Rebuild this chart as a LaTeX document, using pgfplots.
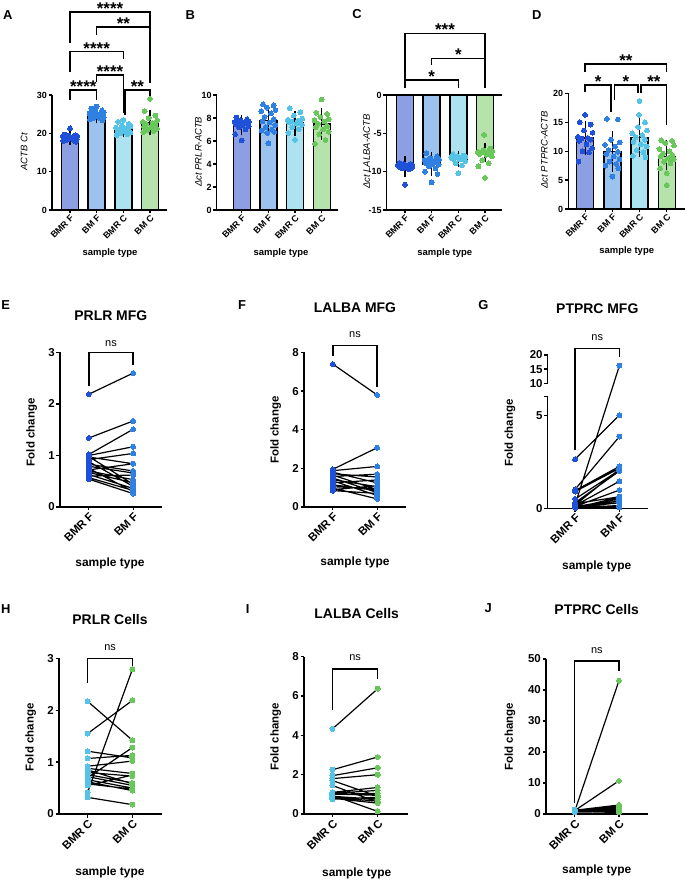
\documentclass[border=0pt]{standalone}
\usepackage{fontspec}
\setmainfont{Liberation Sans}
\usepackage{pgfplots}
\usepackage{pgfplotstable}
\pgfplotsset{compat=1.18}

% group colours
\definecolor{barBMRF}{HTML}{8C9FE3}
\definecolor{barBMF}{HTML}{9CC3EE}
\definecolor{barBMRC}{HTML}{ADE2F1}
\definecolor{barBMC}{HTML}{B6E2AC}
\definecolor{dotBMRF}{HTML}{1E50D8}
\definecolor{dotBMF}{HTML}{2F80E3}
\definecolor{dotBMRC}{HTML}{55C3E6}
\definecolor{dotBMC}{HTML}{69C75C}

\newcommand\fs[1]{\fontsize{#1}{#1}\selectfont}

\tikzset{
  brk/.style={line width=1.45bp, black},
  stars/.style={font=\bfseries\fs{17}, anchor=base, yshift=-2.5bp, inner sep=0pt},
  nslab/.style={font=\fs{11}, inner sep=0pt},
}

\pgfplotsset{
  gp/.style={
    scale only axis, anchor=south west, axis lines=left, clip=false,
    axis line style={-, line width=1.4bp, black},
    tick style={line width=1.3bp, black},
    tick align=outside, major tick length=3.5bp,
    /pgf/number format/assume math mode=true,
  },
  toprow/.style={gp,
    xtick={0,1,2,3}, xticklabels={BMR F,BM F,BMR C,BM C},
    xticklabel style={font=\bfseries\fs{9}, rotate=45, anchor=north east, inner sep=0.5bp},
    yticklabel style={font=\bfseries\fs{9}, inner sep=1.5bp},
  },
  pairs/.style={gp, xtick={0,1},
    xticklabel style={font=\bfseries\fs{11.5}, rotate=45, anchor=north east, inner sep=0.5bp},
    yticklabel style={font=\bfseries\fs{11.5}, inner sep=1.5bp},
  },
  gpbar/.style={ybar, bar width=17bp, bar shift=0pt, draw=black, line width=1.4bp, fill=#1},
  gpdots/.style={only marks, mark=*, mark size=2.4bp, mark options={draw=#1, fill=#1, line width=0pt}},
  gperr/.style={draw=none, mark=none, error bars/.cd, y dir=both, y explicit,
    error bar style={draw=black, line width=1.1bp},
    error mark options={draw=black, line width=1.1bp, mark size=4.5bp}},
  pairline/.style={black, line width=1.2bp, mark=none, unbounded coords=jump},
  pairdots/.style 2 args={only marks, mark=*, mark size=2.5bp,
    mark options={draw=#1, fill=#1, line width=0pt}, restrict x to domain=#2},
  gbreak/.style={y filter/.expression={min(y,6)+0.17925*max(0,min(y,10)-6)+0.1518*max(0,y-10)}},
}

\begin{document}

% paired fold changes: x = 0 (reference sample), x = 1 (milk sample)
\pgfplotstableread{
x y
0 2.19
1 2.60
nan 0
0 1.34
1 1.67
nan 0
0 1.02
1 1.51
nan 0
0 1.00
1 1.17
nan 0
0 0.97
1 0.84
nan 0
0 0.92
1 1.04
nan 0
0 0.88
1 0.40
nan 0
0 0.83
1 0.70
nan 0
0 0.79
1 0.66
nan 0
0 0.75
1 0.30
nan 0
0 0.72
1 0.84
nan 0
0 0.70
1 0.53
nan 0
0 0.67
1 0.47
nan 0
0 0.63
1 0.36
nan 0
0 0.60
1 0.62
nan 0
0 0.57
1 0.32
nan 0
0 0.54
1 0.26
nan 0
0 0.98
1 0.44
}\prlrMFG

\pgfplotstableread{
x y
0 7.40
1 5.80
nan 0
0 1.95
1 3.07
nan 0
0 1.88
1 2.10
nan 0
0 1.80
1 1.25
nan 0
0 1.72
1 1.55
nan 0
0 1.65
1 0.90
nan 0
0 1.58
1 1.70
nan 0
0 1.50
1 0.75
nan 0
0 1.42
1 1.05
nan 0
0 1.35
1 0.60
nan 0
0 1.25
1 1.40
nan 0
0 1.15
1 0.85
nan 0
0 1.05
1 0.95
nan 0
0 0.98
1 0.42
nan 0
0 0.90
1 1.10
nan 0
0 0.85
1 0.70
}\lalbaMFG

\pgfplotstableread{
x y
0 2.64
1 5.00
nan 0
0 0.20
1 16.2
nan 0
0 1.02
1 3.85
nan 0
0 0.95
1 2.25
nan 0
0 0.90
1 2.15
nan 0
0 0.50
1 2.05
nan 0
0 0.30
1 2.00
nan 0
0 0.15
1 1.45
nan 0
0 0.10
1 0.98
nan 0
0 0.25
1 0.62
nan 0
0 0.08
1 0.50
nan 0
0 0.05
1 0.40
nan 0
0 0.12
1 0.28
nan 0
0 0.03
1 0.15
nan 0
0 0.06
1 0.05
nan 0
0 0.02
1 0.60
nan 0
0 0.18
1 2.10
nan 0
0 0.04
1 0.30
}\ptprcMFG

\pgfplotstableread{
x y
0 2.17
1 1.42
nan 0
0 1.55
1 2.19
nan 0
0 0.42
1 2.79
nan 0
0 1.21
1 1.08
nan 0
0 1.07
1 1.13
nan 0
0 0.92
1 1.02
nan 0
0 0.88
1 0.78
nan 0
0 0.80
1 0.73
nan 0
0 0.76
1 0.60
nan 0
0 0.72
1 0.55
nan 0
0 0.70
1 1.28
nan 0
0 0.66
1 0.50
nan 0
0 0.62
1 0.45
nan 0
0 0.58
1 0.48
nan 0
0 0.55
1 0.75
nan 0
0 0.32
1 0.18
nan 0
0 0.85
1 0.58
}\prlrCells

\pgfplotstableread{
x y
0 4.33
1 6.37
nan 0
0 2.25
1 2.90
nan 0
0 1.95
1 2.35
nan 0
0 1.80
1 2.00
nan 0
0 1.70
1 0.90
nan 0
0 1.45
1 0.60
nan 0
0 1.10
1 1.35
nan 0
0 1.05
1 1.20
nan 0
0 1.00
1 1.05
nan 0
0 0.95
1 0.13
nan 0
0 0.90
1 0.75
nan 0
0 0.85
1 0.65
nan 0
0 0.80
1 0.55
nan 0
0 0.75
1 0.85
nan 0
0 1.02
1 0.95
}\lalbaCells

\pgfplotstableread{
x y
0 0.9
1 43.0
nan 0
0 1.1
1 10.7
nan 0
0 1.2
1 2.9
nan 0
0 1.0
1 2.5
nan 0
0 0.8
1 2.2
nan 0
0 1.3
1 1.9
nan 0
0 0.7
1 1.6
nan 0
0 1.1
1 1.4
nan 0
0 0.9
1 1.2
nan 0
0 1.0
1 1.0
nan 0
0 0.6
1 0.8
nan 0
0 1.4
1 0.6
nan 0
0 0.8
1 0.5
nan 0
0 1.2
1 2.0
nan 0
0 1.0
1 1.7
}\ptprcCells

\begin{tikzpicture}
\fill[white] (0,0) rectangle (685bp,881bp);

% ---------------- A: ACTB Ct ----------------
\begin{axis}[toprow, at={(52bp,671bp)}, width=115bp, height=115bp,
  xmin=-0.675, xmax=3.637, ymin=0, ymax=30, ytick={0,10,20,30}]
\addplot[gpbar=barBMRF] coordinates {(0,18.95)};
\addplot[gpbar=barBMF] coordinates {(1,24.9)};
\addplot[gpbar=barBMRC] coordinates {(2,21.2)};
\addplot[gpbar=barBMC] coordinates {(3,22.9)};
\addplot[gpdots=dotBMRF] coordinates {(0,21.3) (-0.2,19.7) (0.2,19.5) (-0.05,19.4) (0.27,19.3) (-0.27,19.2) (0.1,19.0) (-0.14,18.9) (0.2,18.8) (-0.22,18.7) (0.05,18.6) (0.26,18.5) (-0.1,18.3) (0.14,18.2) (-0.25,18.0) (0.22,17.8)};
\addplot[gpdots=dotBMF] coordinates {(1,27.0) (0.8,26.5) (1.2,26.0) (0.95,25.8) (1.27,25.5) (0.73,25.2) (1.1,25.0) (0.86,24.8) (1.2,24.6) (0.78,24.5) (1.05,24.3) (1.26,24.2) (0.9,24.0) (1.14,23.8) (0.75,23.6) (1.22,23.4)};
\addplot[gpdots=dotBMRC] coordinates {(2,23.5) (1.8,23.0) (2.2,22.5) (1.95,22.0) (2.27,21.8) (1.73,21.5) (2.1,21.3) (1.86,21.0) (2.2,20.8) (1.78,20.6) (2.05,20.4) (2.26,20.2) (1.9,20.0) (2.14,19.8) (1.75,19.5)};
\addplot[gpdots=dotBMC] coordinates {(3,29.0) (2.8,25.8) (3.2,24.6) (2.95,24.0) (3.27,23.4) (2.73,23.0) (3.1,22.6) (2.86,22.4) (3.2,22.1) (2.78,21.8) (3.05,21.5) (3.26,21.2) (2.9,20.9) (3.14,20.6) (2.75,20.3)};
\addplot[gperr] coordinates {(0,18.95) +- (0,0.8) (1,24.9) +- (0,1.1) (2,21.2) +- (0,1.1) (3,22.9) +- (0,2.1)};
\draw[brk] (axis cs:0,43.5) |- (axis cs:3,51.6) -- (axis cs:3,33.0);
\node[stars] at (axis cs:1.5,51.6) {****};
\draw[brk] (axis cs:1,45.6) |- (axis cs:3,47.7) -- (axis cs:3,33.0);
\node[stars] at (axis cs:2,47.7) {**};
\draw[brk] (axis cs:0,36.0) |- (axis cs:2,41.3) -- (axis cs:2,39.5);
\node[stars] at (axis cs:1,41.3) {****};
\draw[brk] (axis cs:1,33.3) |- (axis cs:2,35.2) -- (axis cs:2,25.3);
\node[stars] at (axis cs:1.5,35.2) {****};
\draw[brk] (axis cs:0,28.7) |- (axis cs:1,31.3) -- (axis cs:1,28.7);
\node[stars] at (axis cs:0.5,31.3) {****};
\draw[brk] (axis cs:2.06,24.9) |- (axis cs:3,31.3) -- (axis cs:3,29.5);
\node[stars] at (axis cs:2.53,31.3) {**};
\end{axis}

% ---------------- B: dCt PRLR ----------------
\begin{axis}[toprow, at={(216.7bp,671bp)}, width=121.3bp, height=115bp,
  xmin=-0.9375, xmax=3.611, ymin=0, ymax=10, ytick={0,2,4,6,8,10}]
\addplot[gpbar=barBMRF] coordinates {(0,7.38)};
\addplot[gpbar=barBMF] coordinates {(1,7.76)};
\addplot[gpbar=barBMRC] coordinates {(2,7.55)};
\addplot[gpbar=barBMC] coordinates {(3,7.48)};
\addplot[gpdots=dotBMRF] coordinates {(0,6.05) (-0.2,8.05) (0.2,7.9) (-0.05,7.8) (0.27,7.7) (-0.27,7.65) (0.1,7.6) (-0.14,7.55) (0.2,7.5) (-0.22,7.45) (0.05,7.4) (0.26,7.3) (-0.1,7.2) (0.14,7.0) (-0.25,6.6)};
\addplot[gpdots=dotBMF] coordinates {(1,5.8) (0.8,9.2) (1.2,9.1) (0.95,8.9) (1.27,8.7) (0.73,8.6) (1.1,8.4) (0.86,8.1) (1.2,7.9) (0.78,7.7) (1.05,7.6) (1.26,7.4) (0.9,7.2) (1.14,7.0) (0.75,6.9) (1.22,6.8) (0.96,6.7)};
\addplot[gpdots=dotBMRC] coordinates {(2,6.1) (1.8,8.85) (2.2,8.5) (1.95,8.2) (2.27,7.95) (1.73,7.85) (2.1,7.75) (1.86,7.7) (2.2,7.65) (1.78,7.6) (2.05,7.5) (2.26,7.4) (1.9,7.2) (2.14,7.0) (1.75,6.7)};
\addplot[gpdots=dotBMC] coordinates {(3,9.6) (2.8,8.45) (3.2,8.35) (2.95,8.1) (3.27,7.9) (2.73,7.8) (3.1,7.7) (2.86,7.5) (3.2,7.3) (2.78,7.2) (3.05,7.0) (3.26,6.8) (2.9,6.6) (3.14,6.1) (2.75,5.75)};
\addplot[gperr] coordinates {(0,7.38) +- (0,0.48) (1,7.76) +- (0,0.95) (2,7.55) +- (0,0.7) (3,7.48) +- (0,0.98)};
\end{axis}

% ---------------- C: dCt LALBA ----------------
\begin{axis}[toprow, at={(386.7bp,671bp)}, width=115bp, height=115bp,
  xmin=-0.686, xmax=3.626, ymin=-15, ymax=0, ytick={-15,-10,-5,0}]
\addplot[gpbar=barBMRF] coordinates {(0,-9.35)};
\addplot[gpbar=barBMF] coordinates {(1,-9.0)};
\addplot[gpbar=barBMRC] coordinates {(2,-8.35)};
\addplot[gpbar=barBMC] coordinates {(3,-7.45)};
\draw[brk] (axis cs:-0.686,0) -- (axis cs:3.626,0);
\addplot[gpdots=dotBMRF] coordinates {(0,-11.7) (-0.2,-8.9) (0.2,-9.0) (-0.05,-9.05) (0.27,-9.1) (-0.27,-9.15) (0.1,-9.2) (-0.14,-9.25) (0.2,-9.3) (-0.22,-9.35) (0.05,-9.4) (0.26,-9.5) (-0.1,-9.6) (0.14,-9.7)};
\addplot[gpdots=dotBMF] coordinates {(1,-11.4) (0.8,-7.6) (1.2,-8.0) (0.95,-8.2) (1.27,-8.4) (0.73,-8.5) (1.1,-8.6) (0.86,-8.7) (1.2,-8.8) (0.78,-8.9) (1.05,-9.0) (1.26,-9.1) (0.9,-9.3) (1.14,-9.6) (0.75,-10.0) (1.22,-10.3)};
\addplot[gpdots=dotBMRC] coordinates {(2,-10.2) (1.8,-7.7) (2.2,-7.9) (1.95,-8.0) (2.27,-8.05) (1.73,-8.1) (2.1,-8.15) (1.86,-8.2) (2.2,-8.25) (1.78,-8.3) (2.05,-8.4) (2.26,-8.6) (1.9,-8.9) (2.14,-9.2)};
\addplot[gpdots=dotBMC] coordinates {(3,-10.8) (2.97,-5.2) (3.2,-7.0) (2.95,-7.2) (3.27,-7.3) (2.73,-7.4) (3.1,-7.45) (2.86,-7.5) (3.2,-7.6) (2.78,-7.7) (3.05,-7.8) (3.26,-8.0) (2.9,-8.5) (3.14,-8.9) (2.75,-9.3)};
\addplot[gperr] coordinates {(0,-9.35) +- (0,0.8) (1,-9.0) +- (0,1.0) (2,-8.35) +- (0,0.5) (3,-7.45) +- (0,0.65)};
\draw[brk] (axis cs:0,0.87) |- (axis cs:3,8.05) -- (axis cs:3,0.87);
\node[stars] at (axis cs:1.5,8.05) {***};
\draw[brk] (axis cs:1,3.9) |- (axis cs:3,4.78);
\node[stars] at (axis cs:2,4.78) {*};
\draw[brk] (axis cs:0,0.87) |- (axis cs:2,1.96) -- (axis cs:2,0.87);
\node[stars] at (axis cs:1,1.96) {*};
\end{axis}

% ---------------- D: dCt PTPRC ----------------
\begin{axis}[toprow, at={(568.3bp,672bp)}, width=116.5bp, height=115.5bp,
  xmin=-0.622, xmax=3.666, ymin=0, ymax=20, ytick={0,5,10,15,20}]
\addplot[gpbar=barBMRF] coordinates {(0,12.3)};
\addplot[gpbar=barBMF] coordinates {(1,9.95)};
\addplot[gpbar=barBMRC] coordinates {(2,12.4)};
\addplot[gpbar=barBMC] coordinates {(3,9.1)};
\addplot[gpdots=dotBMRF] coordinates {(0,16.3) (-0.2,15.0) (0.2,14.6) (-0.05,13.6) (0.27,13.2) (-0.27,12.5) (0.1,12.3) (-0.14,12.2) (0.2,12.0) (-0.22,11.8) (0.05,11.2) (0.26,10.5) (-0.1,10.0) (0.14,9.8) (-0.25,8.2)};
\addplot[gpdots=dotBMF] coordinates {(1,5.6) (0.8,15.6) (1.2,15.5) (0.95,12.0) (1.27,11.5) (0.73,11.1) (1.1,10.8) (0.86,10.2) (1.2,9.9) (0.78,9.5) (1.05,9.1) (1.26,8.6) (0.9,8.2) (1.14,7.8) (0.75,7.5) (1.22,7.0)};
\addplot[gpdots=dotBMRC] coordinates {(2,18.7) (1.98,16.3) (2.2,15.0) (1.95,14.2) (2.27,13.6) (1.73,13.1) (2.1,12.8) (1.86,12.4) (2.2,12.0) (1.78,11.6) (2.05,11.2) (2.26,10.8) (1.9,10.2) (2.14,9.8) (1.75,9.2) (2.22,8.9)};
\addplot[gpdots=dotBMC] coordinates {(3,4.1) (2.8,11.9) (3.2,11.8) (2.95,11.4) (3.27,11.0) (2.73,10.4) (3.1,10.0) (2.86,9.6) (3.2,9.3) (2.78,9.1) (3.05,8.8) (3.26,8.6) (2.9,8.2) (3.14,7.9) (2.75,7.0) (3.0,6.2)};
\addplot[gperr] coordinates {(0,12.3) +- (0,2.2) (1,9.95) +- (0,2.7) (2,12.4) +- (0,2.6) (3,9.1) +- (0,2.0)};
\draw[brk] (axis cs:0,23.8) |- (axis cs:3,25.1) -- (axis cs:3,23.8);
\node[stars] at (axis cs:1.5,25.1) {**};
\draw[brk] (axis cs:0,20.3) |- (axis cs:0.95,21.5) -- (axis cs:0.95,16.85);
\node[stars] at (axis cs:0.475,21.5) {*};
\draw[brk] (axis cs:1.07,18.9) |- (axis cs:1.94,21.5) -- (axis cs:1.94,20.0);
\node[stars] at (axis cs:1.5,21.5) {*};
\draw[brk] (axis cs:2.06,20.0) |- (axis cs:3,21.5) -- (axis cs:3,14.5);
\node[stars] at (axis cs:2.53,21.5) {**};
\end{axis}

% ---------------- E: PRLR MFG ----------------
\begin{axis}[pairs, at={(60bp,374bp)}, width=102bp, height=154.5bp,
  xmin=-0.65, xmax=1.65, ymin=0, ymax=3, ytick={0,1,2,3},
  xticklabels={BMR F,BM F}]
\addplot[pairline] table {\prlrMFG};
\addplot[pairdots={dotBMRF}{-0.1:0.1}] table {\prlrMFG};
\addplot[pairdots={dotBMF}{0.9:1.1}] table {\prlrMFG};
\draw[brk] (axis cs:0,2.35) |- (axis cs:1,3.0) -- (axis cs:1,2.75);
\node[nslab] at (axis cs:0.5,3.18) {ns};
\end{axis}

% ---------------- F: LALBA MFG ----------------
\begin{axis}[pairs, at={(304bp,374bp)}, width=102bp, height=154.5bp,
  xmin=-0.65, xmax=1.65, ymin=0, ymax=8, ytick={0,2,4,6,8},
  xticklabels={BMR F,BM F}]
\addplot[pairline] table {\lalbaMFG};
\addplot[pairdots={dotBMRF}{-0.1:0.1}] table {\lalbaMFG};
\addplot[pairdots={dotBMF}{0.9:1.1}] table {\lalbaMFG};
\draw[brk] (axis cs:0,7.8) |- (axis cs:1,8.35) -- (axis cs:1,6.23);
\node[nslab] at (axis cs:0.5,8.95) {ns};
\end{axis}

% ---------------- G: PTPRC MFG (broken y axis) ----------------
\begin{axis}[pairs, at={(547.7bp,372.7bp)}, width=100bp, height=153.3bp,
  xmin=-0.62, xmax=1.64, ymin=0, ymax=8.235,
  ytick={0,5,6,6.717,7.476,8.235}, yticklabels={0,5,,10,15,20},
  y axis line style={draw=none},
  xticklabels={BMR F,BM F}]
\draw[brk] (axis cs:-0.62,0) -- (axis cs:-0.62,6);
\draw[brk] (axis cs:-0.62,6.717) -- (axis cs:-0.62,8.235);
\addplot[pairline, gbreak] table {\ptprcMFG};
\addplot[pairdots={dotBMRF}{-0.1:0.1}, gbreak] table {\ptprcMFG};
\addplot[pairdots={dotBMF}{0.9:1.1}, gbreak] table {\ptprcMFG};
\draw[brk] (axis cs:0,3.12) |- (axis cs:1,8.57) -- (axis cs:1,8.12);
\node[nslab] at (axis cs:0.5,9.19) {ns};
\end{axis}

% ---------------- H: PRLR Cells ----------------
\begin{axis}[pairs, at={(59bp,67bp)}, width=103bp, height=155.7bp,
  xmin=-0.64, xmax=1.66, ymin=0, ymax=3, ytick={0,1,2,3},
  xticklabels={BMR C,BM C}]
\addplot[pairline] table {\prlrCells};
\addplot[pairdots={dotBMRC}{-0.1:0.1}] table {\prlrCells};
\addplot[pairdots={dotBMC}{0.9:1.1}] table {\prlrCells};
\draw[brk] (axis cs:0,2.53) |- (axis cs:1,3.0) -- (axis cs:1,2.85);
\node[nslab] at (axis cs:0.5,3.21) {ns};
\end{axis}

% ---------------- I: LALBA Cells ----------------
\begin{axis}[pairs, at={(304bp,67bp)}, width=104bp, height=157.3bp,
  xmin=-0.63, xmax=1.67, ymin=0, ymax=8, ytick={0,2,4,6,8},
  xticklabels={BMR C,BM C}]
\addplot[pairline] table {\lalbaCells};
\addplot[pairdots={dotBMRC}{-0.1:0.1}] table {\lalbaCells};
\addplot[pairdots={dotBMC}{0.9:1.1}] table {\lalbaCells};
\draw[brk] (axis cs:0,5.29) |- (axis cs:1,7.37) -- (axis cs:1,6.85);
\node[nslab] at (axis cs:0.5,7.95) {ns};
\end{axis}

% ---------------- J: PTPRC Cells ----------------
\begin{axis}[pairs, at={(546bp,67bp)}, width=101.7bp, height=155bp,
  xmin=-0.65, xmax=1.65, ymin=0, ymax=50, ytick={0,10,20,30,40,50},
  xticklabels={BMR C,BM C}]
\addplot[pairline] table {\ptprcCells};
\addplot[pairdots={dotBMRC}{-0.1:0.1}] table {\ptprcCells};
\addplot[pairdots={dotBMC}{0.9:1.1}] table {\ptprcCells};
\draw[brk] (axis cs:0,3.4) |- (axis cs:1,49.4) -- (axis cs:1,46.1);
\node[nslab] at (axis cs:0.5,52.6) {ns};
\end{axis}

% ---------------- titles, labels, panel letters ----------------
\begin{scope}[every node/.style={inner sep=0pt}]
\node[font=\bfseries\fs{13}] at (7.7bp,866.3bp) {A};
\node[font=\bfseries\fs{13}] at (190.3bp,866.3bp) {B};
\node[font=\bfseries\fs{13}] at (357bp,867bp) {C};
\node[font=\bfseries\fs{13}] at (536.7bp,866.3bp) {D};
\node[font=\bfseries\fs{13}] at (5.8bp,576bp) {E};
\node[font=\bfseries\fs{13}] at (242bp,576.3bp) {F};
\node[font=\bfseries\fs{13}] at (483.3bp,576bp) {G};
\node[font=\bfseries\fs{13}] at (5.8bp,272bp) {H};
\node[font=\bfseries\fs{13}] at (247.7bp,272.3bp) {I};
\node[font=\bfseries\fs{13}] at (488.3bp,272.7bp) {J};

\node[font=\itshape\fs{9.5}, rotate=90] at (24bp,729.3bp) {ACTB Ct};
\node[font=\itshape\fs{9.5}, rotate=90] at (198.3bp,729.3bp) {Δct PRLR-ACTB};
\node[font=\itshape\fs{9.5}, rotate=90] at (366.7bp,729.3bp) {Δct LALBA-ACTB};
\node[font=\itshape\fs{9.5}, rotate=90] at (544.3bp,731bp) {Δct PTPRC-ACTB};

\node[font=\bfseries\fs{9.5}] at (110bp,628bp) {sample type};
\node[font=\bfseries\fs{9.5}] at (281bp,628bp) {sample type};
\node[font=\bfseries\fs{9.5}] at (444.8bp,628bp) {sample type};
\node[font=\bfseries\fs{9.5}] at (626.7bp,630bp) {sample type};

\node[font=\bfseries\fs{14}] at (110.8bp,565.2bp) {PRLR MFG};
\node[font=\bfseries\fs{14}] at (355bp,573.7bp) {LALBA MFG};
\node[font=\bfseries\fs{14}] at (597.3bp,572.3bp) {PTPRC MFG};
\node[font=\bfseries\fs{14}] at (110bp,261.7bp) {PRLR Cells};
\node[font=\bfseries\fs{14}] at (356.7bp,267bp) {LALBA Cells};
\node[font=\bfseries\fs{14}] at (596.7bp,271.7bp) {PTPRC Cells};

\node[font=\bfseries\fs{11.5}, rotate=90] at (31.7bp,448.7bp) {Fold change};
\node[font=\bfseries\fs{11.5}, rotate=90] at (275.7bp,451bp) {Fold change};
\node[font=\bfseries\fs{11.5}, rotate=90] at (510bp,448bp) {Fold change};
\node[font=\bfseries\fs{11.5}, rotate=90] at (30.7bp,143.7bp) {Fold change};
\node[font=\bfseries\fs{11.5}, rotate=90] at (275.7bp,144.3bp) {Fold change};
\node[font=\bfseries\fs{11.5}, rotate=90] at (510bp,144.3bp) {Fold change};

\node[font=\bfseries\fs{12}] at (110bp,318bp) {sample type};
\node[font=\bfseries\fs{12}] at (355bp,318.3bp) {sample type};
\node[font=\bfseries\fs{12}] at (596.7bp,315bp) {sample type};
\node[font=\bfseries\fs{12}] at (110bp,8.3bp) {sample type};
\node[font=\bfseries\fs{12}] at (356.7bp,7.7bp) {sample type};
\node[font=\bfseries\fs{12}] at (596.7bp,11bp) {sample type};
\end{scope}

\pgfresetboundingbox
\path[use as bounding box] (0,0) rectangle (685bp,881bp);
\end{tikzpicture}
\end{document}
